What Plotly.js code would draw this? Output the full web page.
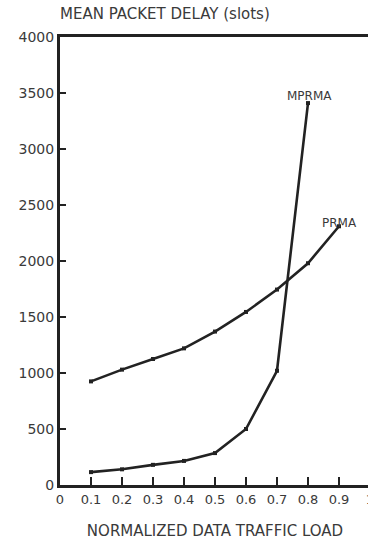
<!DOCTYPE html>
<html><head><meta charset="utf-8">
<script src="https://cdn.plot.ly/plotly-3.0.1.min.js"></script>
<style>html,body{margin:0;padding:0;overflow:hidden;background:#fff}#chart{width:380px;height:544px}</style>
</head><body><div id="chart"></div>
<script>
const loads = [0.1, 0.2, 0.3, 0.4, 0.5, 0.6, 0.7, 0.8, 0.9];
const prmaDelay = [925, 1030, 1125, 1220, 1370, 1545, 1745, 1980, 2310];
const mprmaLoads = [0.1, 0.2, 0.3, 0.4, 0.5, 0.6, 0.7, 0.8];
const mprmaDelay = [115, 140, 180, 215, 285, 500, 1020, 3410];
const xTicks = [0, 0.1, 0.2, 0.3, 0.4, 0.5, 0.6, 0.7, 0.8, 0.9, 1];
const xTickText = ["0", "0.1", "0.2", "0.3", "0.4", "0.5", "0.6", "0.7", "0.8", "0.9", "1"];
const yTicks = [0, 500, 1000, 1500, 2000, 2500, 3000, 3500, 4000];
const yTickText = ["0", "500", "1000", "1500", "2000", "2500", "3000", "3500", "4000"];

const ink = '#222';
const txt = '#3a3a3a';
const fam = 'DejaVu Sans, Liberation Sans, Arial, sans-serif';
const traces = [
  {x: loads, y: prmaDelay, name: 'PRMA', mode: 'lines+markers',
   line: {color: ink, width: 2.6}, marker: {symbol: 'square', size: 4, color: ink}},
  {x: mprmaLoads, y: mprmaDelay, name: 'MPRMA', mode: 'lines+markers',
   line: {color: ink, width: 2.6}, marker: {symbol: 'square', size: 4, color: ink}}
];
const layout = {
  width: 380, height: 544,
  margin: {l: 60, r: 10, t: 37, b: 59},
  paper_bgcolor: '#fff', plot_bgcolor: '#fff',
  showlegend: false,
  font: {family: fam, color: txt, size: 13},
  title: {text: 'MEAN PACKET DELAY (slots)', font: {family: fam, size: 15, color: txt},
          xref: 'paper', x: 0, xanchor: 'left', yref: 'container', y: 0.974, yanchor: 'middle'},
  xaxis: {range: [0, 1], tickvals: xTicks, ticktext: xTickText, ticks: 'inside', ticklen: 8,
          tickwidth: 2, tickcolor: ink, showline: true, linecolor: ink, linewidth: 3,
          mirror: true, showgrid: false, zeroline: false, tickfont: {family: fam, size: 13, color: txt},
          title: {text: 'NORMALIZED DATA TRAFFIC LOAD', font: {family: fam, size: 15, color: txt}, standoff: 20}},
  yaxis: {range: [0, 4000], tickvals: yTicks, ticktext: yTickText, ticks: 'inside', ticklen: 6,
          tickwidth: 2, tickcolor: ink, showline: true, linecolor: ink, linewidth: 3,
          mirror: true, showgrid: false, zeroline: false, tickfont: {family: fam, size: 14, color: txt}},
  annotations: [
    {x: 0.805, y: 3470, xref: 'x', yref: 'y', text: 'MPRMA', showarrow: false,
     font: {family: fam, size: 12, color: txt}},
    {x: 0.9, y: 2340, xref: 'x', yref: 'y', text: 'PRMA', showarrow: false,
     font: {family: fam, size: 12, color: txt}}
  ]
};
Plotly.newPlot('chart', traces, layout, {displayModeBar: false, staticPlot: true});
</script></body></html>
